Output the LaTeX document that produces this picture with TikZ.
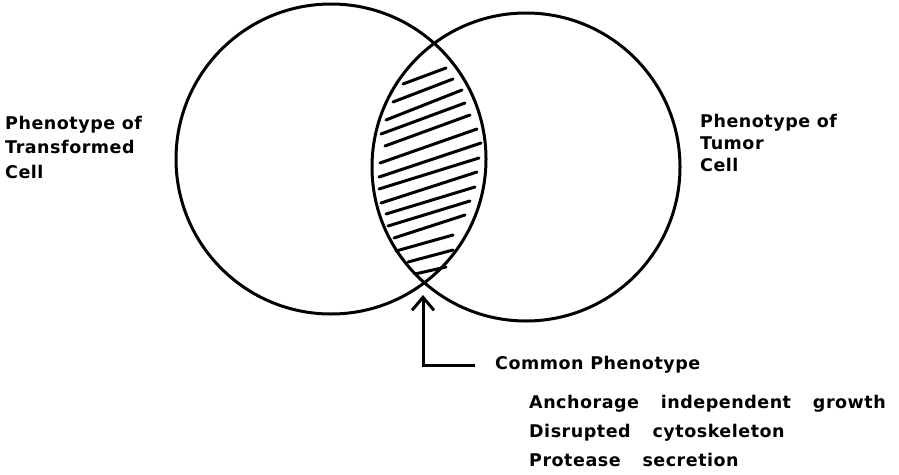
\documentclass[tikz,border=0pt]{standalone}
\usepackage{fontspec}
\setmainfont{DejaVu Sans}[LetterSpace=3]
\newfontfamily\traitfont{DejaVu Sans}[LetterSpace=3, WordSpace=3.3]
\usetikzlibrary{arrows.meta,positioning}

\begin{document}
\begin{tikzpicture}[
    x=1pt, y=-1pt,
    venn/.style={circle, draw, line width=3pt, inner sep=0pt, outer sep=0pt},
    lbl/.style={align=left, inner sep=0pt, font=\bfseries\fontsize{17.5}{23}\selectfont},
    hatch/.style={line width=3pt, line cap=round},
    arr/.style={-{Straight Barb[length=13pt, width=22pt]}, line width=3pt}
]
    \useasboundingbox (0,0) rectangle (899,474);

    \node [venn, minimum size=310pt] (transformed) at (331,159) {};
    \node [venn, minimum size=308pt] (tumor) at (526,167) {};

    % hatching of the overlap
    \foreach \xa/\ya/\xb/\yb in {403/84/446/68, 393/102/453/79, 386/120/462/90,
        381/134/465/103, 385/146/470/115, 380/163/477/129, 379/177/481/143,
        379/189/479/158, 381/203/477/172, 386/214/475/187, 388/226/470/201,
        394/238/465/215, 396/251/453/235, 408/262/453/250, 415/274/446/267}
        \draw [hatch] (\xa,\ya) -- (\xb,\yb);

    \node [lbl, anchor=west, font=\bfseries\fontsize{17.5}{24.5}\selectfont] (transformedlbl) at (5,147) {Phenotype of\\Transformed\\Cell};
    \node [lbl, anchor=west, font=\bfseries\fontsize{17.5}{22}\selectfont] (tumorlbl) at (700,143) {Phenotype of\\Tumor\\Cell};

    \coordinate (tip) at (423,295);
    \node [lbl, anchor=west] (common) at (495,365) {Common Phenotype};
    \node [lbl, anchor=west, font=\traitfont\bfseries\fontsize{17.5}{29}\selectfont] (traits) at (529,431)
        {Anchorage independent growth\\Disrupted cytoskeleton\\Protease secretion};

    \draw [arr] ([xshift=-20pt]common.west) -| (tip);
\end{tikzpicture}
\end{document}
